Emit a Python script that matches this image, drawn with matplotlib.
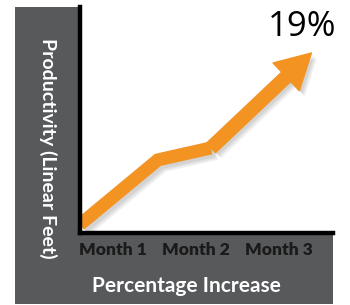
import matplotlib
matplotlib.use("Agg")
import matplotlib.pyplot as plt
import matplotlib.patheffects as pe
from matplotlib.patches import Rectangle

# data
months = ["Month 1", "Month 2", "Month 3"]
month_pos = [1, 2, 3]
trend_x = [0.60, 1.54, 2.18]      # polyline up to last kink
trend_y = [3.5, 32.2, 37.5]
tip = (3.39, 79.6)                # arrow head
label_top = "19%"

ORANGE = "#f39322"
GRAY = "#58595b"

fig = plt.figure(figsize=(3.5, 3.05), dpi=100)
fig.patch.set_facecolor("white")

# gray L-shaped frame behind the axes
fig.patches.append(Rectangle((15/350, 1/305), (333-15)/350, (298-1)/305,
                             transform=fig.transFigure, facecolor=GRAY,
                             edgecolor="none", zorder=-1))

ax = fig.add_axes([80/350, 72.5/305, (333-80)/350, (298-72.5)/305])
ax.set_zorder(1)
ax.set_facecolor("white")
ax.set_xlim(0.602, 3.65)
ax.set_ylim(0, 100)

# soft drop shadow: a few stacked faint offsets
shadow = [pe.SimpleLineShadow(offset=(o, -o), shadow_color="k", alpha=0.06) for o in (2, 3, 4)]
shadow.append(pe.Normal())
pshadow = [pe.SimplePatchShadow(offset=(o, -o), shadow_rgbFace="k", alpha=0.06) for o in (2, 3, 4)]
pshadow.append(pe.Normal())

ax.plot(trend_x, trend_y, color=ORANGE, lw=9.4, solid_joinstyle="miter",
        solid_capstyle="butt", path_effects=shadow, zorder=3)
ax.annotate("", xy=tip, xytext=(trend_x[-1], trend_y[-1]),
            arrowprops=dict(arrowstyle="simple,head_length=2.5,head_width=2.75,tail_width=0.94",
                            mutation_scale=10, color=ORANGE, shrinkA=0, shrinkB=0,
                            path_effects=pshadow),
            zorder=3)

for s in ["top", "right"]:
    ax.spines[s].set_visible(False)
for s in ["left", "bottom"]:
    ax.spines[s].set_linewidth(3.2)
    ax.spines[s].set_color("black")
    ax.spines[s].set_zorder(5)

ax.set_yticks([])
ax.set_xticks(month_pos)
ax.set_xticklabels(months, fontfamily="Lato", fontweight="heavy", fontsize=12.5, color="#1a1a1a")
ax.tick_params(axis="x", length=0, pad=7)

fig.text(186/350, 1 - 286/305, "Percentage Increase", ha="center", va="center",
         fontfamily="Lato", fontweight="bold", fontsize=15, color="white")
fig.text(48/350, 1 - 148/305, "Productivity (Linear Feet)", ha="center", va="center",
         rotation=-90, fontfamily="Lato", fontweight="bold", fontsize=14, color="white")
fig.text(302/350, 1 - 27/305, label_top, ha="center", va="center",
         fontfamily="Open Sans", fontsize=25, color="black", zorder=5)

fig.savefig("out.png", dpi=100)
